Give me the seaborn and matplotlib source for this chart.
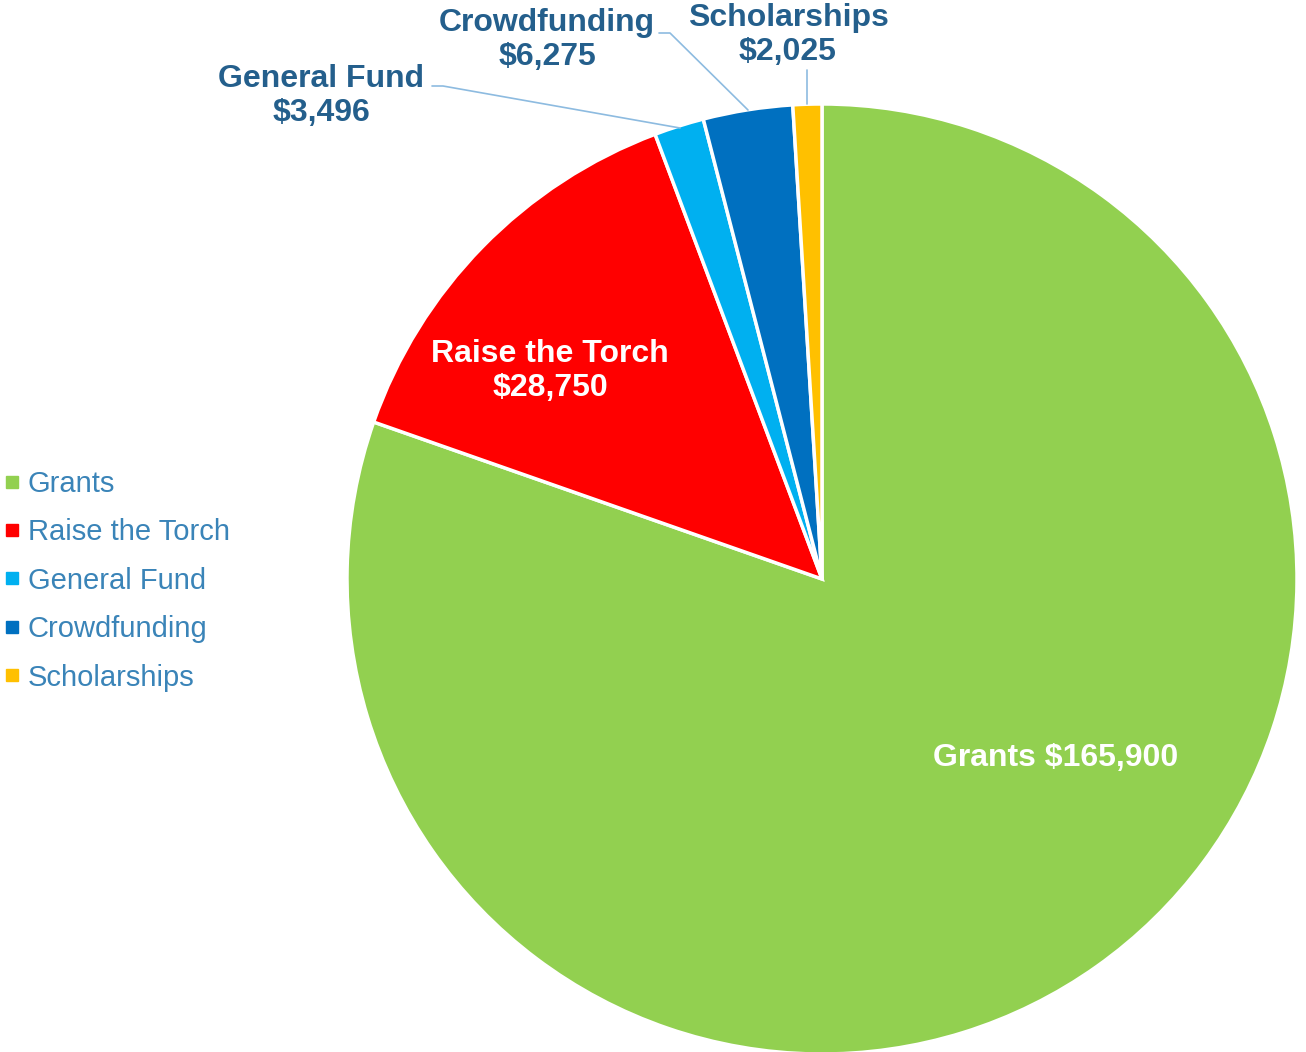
import matplotlib
matplotlib.use("Agg")
import matplotlib.pyplot as plt
import seaborn as sns
from matplotlib.lines import Line2D

sns.set_theme(style="white")
plt.rcParams['font.family'] = ['Liberation Sans', 'DejaVu Sans']

categories = ["Grants", "Raise the Torch", "General Fund", "Crowdfunding", "Scholarships"]
values = [165900, 28750, 3496, 6275, 2025]
value_labels = ["$165,900", "$28,750", "$3,496", "$6,275", "$2,025"]
colors = ["#92D050", "#FF0000", "#00B0F0", "#0070C0", "#FFC000"]

W, H = 1306, 1052
fig = plt.figure(figsize=(W / 100, H / 100), dpi=100)
ax = fig.add_axes([0, 0, 1, 1])
ax.set_xlim(0, W)
ax.set_ylim(0, H)
ax.set_aspect('equal')
ax.axis('off')

cx, cy, r = 822, H - 579, 475
ax.pie(values, colors=colors, startangle=90, counterclock=False,
       center=(cx, cy), radius=r, frame=True,
       wedgeprops=dict(edgecolor='white', linewidth=2.5))
ax.set_xlim(0, W)
ax.set_ylim(0, H)
ax.axis('off')

def py(y):
    return H - y

fs = 23
lab_col = "#245F8C"
# inside labels
ax.text(550, py(354), categories[1], color='white', fontsize=fs, fontweight='bold', ha='center', va='center')
ax.text(550, py(388), value_labels[1], color='white', fontsize=fs, fontweight='bold', ha='center', va='center')
ax.text(1056, py(758), f"{categories[0]} {value_labels[0]}", color='white', fontsize=fs, fontweight='bold', ha='center', va='center')

# outside labels
ax.text(321, py(79), categories[2], color=lab_col, fontsize=fs, fontweight='bold', ha='center', va='center')
ax.text(321, py(113), value_labels[2], color=lab_col, fontsize=fs, fontweight='bold', ha='center', va='center')
ax.text(547, py(23), categories[3], color=lab_col, fontsize=fs, fontweight='bold', ha='center', va='center')
ax.text(547, py(57), value_labels[3], color=lab_col, fontsize=fs, fontweight='bold', ha='center', va='center')
ax.text(788, py(18), categories[4], color=lab_col, fontsize=fs, fontweight='bold', ha='center', va='center')
ax.text(788, py(52), value_labels[4], color=lab_col, fontsize=fs, fontweight='bold', ha='center', va='center')

line_col = "#8DBBE0"
ax.plot([432, 443, 680], [py(86), py(86), py(128)], color=line_col, lw=1.2)
ax.plot([659, 670, 748], [py(33), py(33), py(110)], color=line_col, lw=1.2)
ax.plot([807, 807], [py(70), py(104)], color=line_col, lw=1.2)

handles = [Line2D([0], [0], marker='s', linestyle='', markersize=8, markerfacecolor=c, markeredgecolor=c) for c in colors]
leg = fig.legend(handles, categories, loc='upper left', bbox_to_anchor=(0.0, 1 - 464 / H),
                 frameon=False, fontsize=21, handlelength=0.45, handletextpad=0.3,
                 labelspacing=0.7, borderaxespad=0, borderpad=0.2)
for t in leg.get_texts():
    t.set_color("#3A84B8")

fig.savefig("out.png", dpi=100)
